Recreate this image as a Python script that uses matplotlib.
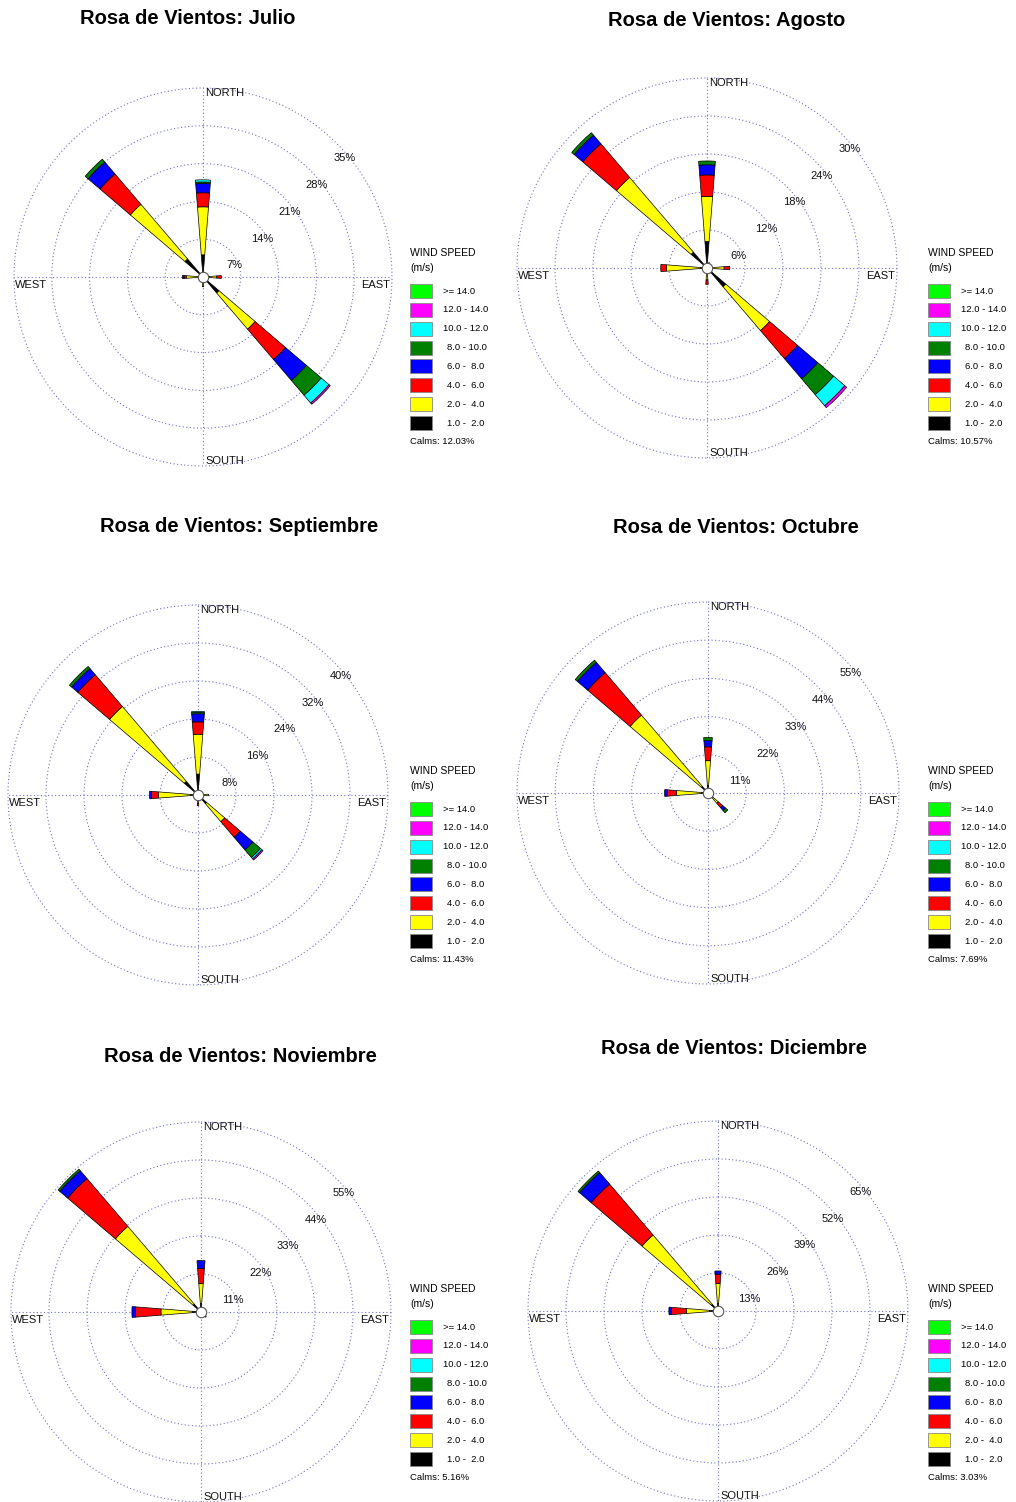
import numpy as np
import matplotlib
matplotlib.use("Agg")
import matplotlib.pyplot as plt
from matplotlib.patches import Rectangle
from matplotlib import font_manager

W, H, DPI = 1016, 1502, 100

# ---- speed classes (inner to outer) ----
classes = ["1.0 -  2.0", "2.0 -  4.0", "4.0 -  6.0", "6.0 -  8.0",
           "8.0 - 10.0", "10.0 - 12.0", "12.0 - 14.0", ">= 14.0"]
class_colors = ["#000000", "#ffff00", "#ff0000", "#0000ff",
                "#008000", "#00ffff", "#ff00ff", "#00ff00"]

# ---- frequency (%) per direction and speed class ----
julio_dirs = [0, 315, 135, 270, 90, 180]
julio_freq = [[4.1, 8.9, 2.6, 1.7, 0.3, 0.4, 0.0, 0.0],
              [4.4, 13.3, 7.4, 2.9, 0.7, 0.0, 0.0, 0.0],
              [3.9, 8.8, 7.4, 5.1, 3.6, 1.9, 0.3, 0.0],
              [0.9, 2.2, 0.4, 0.3, 0.0, 0.0, 0.0, 0.0],
              [1.2, 1.3, 0.9, 0.0, 0.0, 0.0, 0.0, 0.0],
              [0.6, 1.2, 0.0, 0.0, 0.0, 0.0, 0.0, 0.0]]
julio_rings = [7, 14, 21, 28, 35]
julio_calms = 12.03

agosto_dirs = [0, 315, 135, 270, 90, 180, 22.5]
agosto_freq = [[4.2, 7.1, 3.4, 1.6, 0.6, 0.0, 0.0, 0.0],
               [3.3, 15.5, 7.0, 1.8, 0.5, 0.0, 0.0, 0.0],
               [3.9, 9.1, 5.8, 4.2, 3.3, 2.3, 0.4, 0.0],
               [1.0, 5.4, 0.9, 0.0, 0.0, 0.0, 0.0, 0.0],
               [0.8, 1.9, 0.9, 0.0, 0.0, 0.0, 0.0, 0.0],
               [0.5, 1.4, 0.7, 0.0, 0.0, 0.0, 0.0, 0.0],
               [0.3, 0.3, 0.3, 0.0, 0.0, 0.0, 0.0, 0.0]]
agosto_rings = [6, 12, 18, 24, 30]
agosto_calms = 10.57

septiembre_dirs = [0, 315, 135, 270, 90, 180]
septiembre_freq = [[4.4, 8.4, 2.6, 1.7, 0.3, 0.2, 0.0, 0.0],
                   [3.8, 20.7, 8.8, 1.7, 0.6, 0.0, 0.0, 0.0],
                   [2.4, 5.0, 4.3, 3.5, 2.1, 0.4, 0.3, 0.0],
                   [1.6, 6.7, 1.5, 0.4, 0.0, 0.0, 0.0, 0.0],
                   [1.2, 1.0, 0.0, 0.0, 0.0, 0.0, 0.0, 0.0],
                   [0.8, 1.0, 0.4, 0.0, 0.0, 0.0, 0.0, 0.0]]
septiembre_rings = [8, 16, 24, 32, 40]
septiembre_calms = 11.43

octubre_dirs = [0, 315, 270, 135, 180]
octubre_freq = [[2.1, 7.2, 4.0, 1.8, 0.9, 0.0, 0.0, 0.0],
                [2.5, 27.0, 16.1, 3.9, 0.8, 0.0, 0.0, 0.0],
                [1.9, 7.2, 2.6, 0.8, 0.0, 0.0, 0.0, 0.0],
                [1.0, 2.9, 1.7, 1.0, 0.9, 0.0, 0.0, 0.0],
                [0.3, 0.3, 0.3, 0.0, 0.0, 0.0, 0.0, 0.0]]
octubre_rings = [11, 22, 33, 44, 55]
octubre_calms = 7.69

noviembre_dirs = [0, 315, 270, 135]
noviembre_freq = [[2.5, 5.7, 4.4, 2.3, 0.0, 0.0, 0.0, 0.0],
                  [3.0, 29.6, 18.2, 3.0, 0.6, 0.0, 0.0, 0.0],
                  [2.4, 9.2, 7.4, 1.0, 0.0, 0.0, 0.0, 0.0],
                  [0.5, 0.5, 1.0, 0.0, 0.0, 0.0, 0.0, 0.0]]
noviembre_rings = [11, 22, 33, 44, 55]
noviembre_calms = 5.16

diciembre_dirs = [0, 315, 270]
diciembre_freq = [[2.5, 6.9, 3.2, 1.1, 0.0, 0.0, 0.0, 0.0],
                  [3.0, 31.2, 22.9, 5.2, 0.7, 0.0, 0.0, 0.0],
                  [2.9, 7.9, 5.1, 0.9, 0.0, 0.0, 0.0, 0.0]]
diciembre_rings = [13, 26, 39, 52, 65]
diciembre_calms = 3.03

month_names = ["Julio", "Agosto", "Septiembre", "Octubre", "Noviembre", "Diciembre"]

# ---- fonts ----
available = {f.name for f in font_manager.fontManager.ttflist}
if "Liberation Sans Narrow" in available:
    title_family, title_size = "Liberation Sans Narrow", 15.5
else:
    title_family, title_size = "Liberation Sans", 14.5
plt.rcParams["font.family"] = ["Liberation Sans", "DejaVu Sans"]

GRID = "#7272c8"
DOTS = (0, (1, 2.2))

fig = plt.figure(figsize=(W / DPI, H / DPI), dpi=DPI)
fig.patch.set_facecolor("white")


def fx(x):
    return x / W


def fy(y):
    return 1 - y / H


def wind_rose(cx, cy, R, dirs, freq, rings):
    ax = fig.add_axes([fx(cx - R), fy(cy + R), 2 * R / W, 2 * R / H],
                      projection="polar")
    ax.set_theta_zero_location("N")
    ax.set_theta_direction(-1)
    rmax = rings[-1]
    ax.set_ylim(0, rmax)
    ax.set_xticks(np.deg2rad([0, 90, 180, 270]))
    ax.set_yticks(rings[:-1])
    ax.set_xticklabels([])
    ax.set_yticklabels([])
    ax.tick_params(length=0)
    ax.set_axisbelow(True)
    ax.grid(True, color=GRID, linestyle=DOTS, linewidth=0.8)
    ax.spines["polar"].set_visible(False)
    ax.patch.set_alpha(0)

    # outer ring, same dotted style as the inner ones
    t = np.linspace(0, 2 * np.pi, 400)
    ax.plot(t, np.full_like(t, rmax), color=GRID, linestyle=DOTS,
            linewidth=0.8, clip_on=False, zorder=1)

    # stacked speed-class wedges
    freq = np.asarray(freq, dtype=float)
    theta = np.deg2rad(dirs)
    base = np.zeros(len(dirs))
    for k in range(freq.shape[1]):
        vals = freq[:, k]
        m = vals > 0
        if m.any():
            ax.bar(theta[m], vals[m], width=np.deg2rad(9), bottom=base[m],
                   color=class_colors[k], edgecolor="black", linewidth=0.5,
                   zorder=3)
        base = base + vals

    # calm circle at the centre
    ax.plot([0], [0], "o", ms=7.5, mfc="white", mec="#555555", mew=0.8,
            zorder=6, clip_on=False)

    # ring labels
    for r in rings:
        ax.annotate(f"{r}%", xy=(np.deg2rad(45), r),
                    xytext=(4 + 4 * r / rmax, -15), textcoords="offset pixels",
                    ha="center", va="center", fontsize=8, color="#111111")

    # compass labels
    kw = dict(textcoords="offset pixels", fontsize=8, color="#111111")
    ax.annotate("NORTH", xy=(0, rmax), xytext=(2, 0), ha="left", va="top", **kw)
    ax.annotate("SOUTH", xy=(np.pi, rmax), xytext=(2, 0), ha="left",
                va="bottom", **kw)
    ax.annotate("WEST", xy=(1.5 * np.pi, rmax), xytext=(1, -3), ha="left",
                va="top", **kw)
    ax.annotate("EAST", xy=(0.5 * np.pi, rmax), xytext=(-2, -3), ha="right",
                va="top", **kw)
    return ax


def legend(x, y, calms):
    fig.text(fx(x), fy(y), "WIND SPEED", ha="left", va="center", fontsize=7.5)
    fig.text(fx(x), fy(y + 15), "(m/s)", ha="left", va="center", fontsize=7.5)
    order = list(range(len(classes)))[::-1]
    for i, k in enumerate(order):
        yc = y + 38 + i * 18.86
        fig.add_artist(Rectangle((fx(x), fy(yc + 7)), 22 / W, 14 / H,
                                 transform=fig.transFigure,
                                 facecolor=class_colors[k],
                                 edgecolor="#888888", linewidth=0.6))
        lx = x + 33 if classes[k][1] != "." else x + 37
        fig.text(fx(lx), fy(yc), classes[k], ha="left", va="center",
                 fontsize=6.8)
    fig.text(fx(x), fy(y + 189), f"Calms: {calms:.2f}%", ha="left",
             va="center", fontsize=6.8)


panels = [
    (julio_dirs, julio_freq, julio_rings, julio_calms,
     (203, 277, 189), (188, 18), (410, 253)),
    (agosto_dirs, agosto_freq, agosto_rings, agosto_calms,
     (707, 268, 190), (727, 20), (928, 253)),
    (septiembre_dirs, septiembre_freq, septiembre_rings, septiembre_calms,
     (198, 795, 190), (239, 526), (410, 771)),
    (octubre_dirs, octubre_freq, octubre_rings, octubre_calms,
     (708, 793, 191), (736, 528), (928, 771)),
    (noviembre_dirs, noviembre_freq, noviembre_rings, noviembre_calms,
     (201, 1312, 190), (240, 1056), (410, 1289)),
    (diciembre_dirs, diciembre_freq, diciembre_rings, diciembre_calms,
     (718, 1311, 190), (734, 1048), (928, 1289)),
]

for name, (dirs, freq, rings, calms, (cx, cy, R), (tx, ty), (lx, ly)) in zip(month_names, panels):
    wind_rose(cx, cy, R, dirs, freq, rings)
    fig.text(fx(tx), fy(ty), f"Rosa de Vientos: {name}", ha="center",
             va="center", fontsize=title_size, fontweight="bold",
             family=title_family)
    legend(lx, ly, calms)

fig.savefig("out.png", dpi=DPI, facecolor="white")
